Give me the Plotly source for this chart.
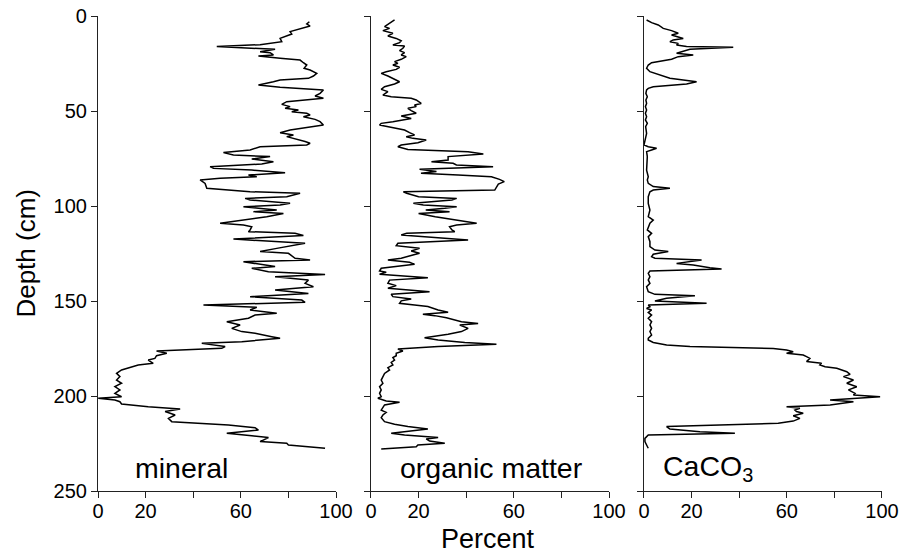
import plotly.graph_objects as go

# ---------------- data ----------------
mineral_depth = [3.0, 4.2, 5.3, 7.4, 8.2, 9.5, 10.5, 11.8, 13.5, 14.4, 15.1, 16.1, 16.8, 17.5, 18.8, 19.3,
                 20.5, 21.1, 22.3, 23.2, 24.6, 25.8, 27.5, 28.4, 30.2, 31.6, 32.8, 33.7, 34.6, 36.3, 37.5,
                 38.9, 40.7, 42.1, 43.3, 45.1, 46.5, 47.7, 48.6, 49.5, 50.4, 51.2, 52.1, 53.0, 54.4, 55.6,
                 57.4, 58.2, 60.0, 61.4, 62.6, 63.5, 64.9, 66.1, 67.0, 67.9, 68.8, 70.5, 71.9, 73.2, 74.0,
                 75.3, 76.7, 77.9, 79.3, 80.2, 81.1, 82.5, 83.7, 84.6, 85.4, 86.3, 88.1, 90.7, 92.5, 93.3,
                 95.1, 96.0, 96.8, 97.7, 98.6, 99.5, 100.4, 101.2, 102.1, 103.0, 103.9, 105.6, 107.4, 109.1,
                 110.0, 110.9, 112.6, 113.5, 114.4, 115.5, 117.4, 119.6, 122.3, 124.0, 124.9, 127.5, 128.4,
                 129.3, 131.9, 132.8, 134.6, 136.0, 137.2, 139.0, 140.7, 142.5, 144.2, 146.0, 147.7, 149.5,
                 150.7, 152.1, 153.3, 154.7, 156.5, 157.4, 159.1, 160.9, 162.6, 164.4, 166.1, 167.0, 168.8,
                 169.6, 171.4, 172.3, 174.0, 174.9, 176.3, 177.5, 178.8, 180.2, 181.1, 182.8, 183.7, 185.1,
                 186.3, 188.1, 189.8, 191.6, 193.3, 195.1, 196.8, 198.6, 200.4, 201.2, 202.1, 203.0, 204.2,
                 205.6, 206.8, 208.2, 210.0, 211.8, 213.5, 215.3, 216.7, 217.9, 219.6, 220.9, 221.9, 224.0,
                 224.9, 225.8, 227.5]
mineral_pct = [88.8, 87.7, 89.1, 82.8, 80.7, 81.4, 79.3, 76.5, 77.2, 72.3, 68.1, 49.9, 66.7, 74.4, 68.1, 72.3,
               73.7, 67.4, 76.5, 84.9, 86.3, 87.7, 86.6, 89.1, 91.9, 90.5, 88.4, 76.5, 73.7, 67.4, 76.5,
               94.7, 93.3, 91.2, 94.7, 79.3, 77.2, 80.7, 78.6, 84.2, 81.4, 87.7, 89.1, 86.3, 91.2, 93.3,
               94.7, 90.5, 80.7, 76.5, 82.1, 79.3, 84.2, 87.0, 89.1, 87.7, 68.1, 63.9, 52.7, 56.9, 72.3,
               64.6, 73.7, 68.8, 47.1, 48.5, 64.6, 78.6, 63.2, 66.7, 51.3, 42.9, 45.0, 45.7, 63.9, 84.9,
               79.3, 61.8, 63.9, 70.9, 80.7, 76.5, 61.1, 67.4, 75.1, 65.3, 77.9, 70.9, 61.1, 51.3,
               61.1, 64.6, 63.9, 63.2, 82.8, 86.3, 56.9, 87.0, 75.1, 68.1, 80.0, 82.8, 89.1,
               61.1, 74.4, 64.6, 71.6, 95.4, 74.4, 88.4, 87.0, 90.5, 74.4, 88.4, 63.9, 85.6,
               87.0, 44.3, 66.7, 63.9, 75.1, 66.0, 63.2, 54.1, 59.7, 56.2, 60.4, 66.0, 73.0,
               76.5, 60.4, 43.6, 53.4, 52.0, 24.6, 28.9, 24.6, 23.9, 21.1, 23.2, 16.9, 12.7,
               9.9, 7.8, 9.2, 7.8, 9.9, 7.1, 9.2, 7.1, 9.9, 0.1, 7.1, 9.2, 9.9,
               21.1, 34.5, 28.2, 32.4, 29.6, 31.0, 54.8, 66.0, 67.4, 54.1, 64.6, 71.6, 68.1,
               79.3, 80.0, 95.4]

organic_depth = [2.1, 3.9, 5.6, 6.5, 7.7, 9.1, 10.5, 11.8, 13.0, 14.0, 15.3, 15.8, 17.0, 18.2, 19.3, 20.5,
                 21.4, 22.8, 24.0, 24.9, 25.8, 27.0, 28.1, 29.3, 30.2, 31.6, 32.8, 34.6, 35.8, 37.2, 38.6,
                 39.8, 41.6, 42.5, 43.3, 44.2, 46.0, 46.8, 47.7, 48.6, 49.8, 51.2, 52.6, 53.9, 55.6, 56.5,
                 57.4, 58.2, 60.0, 61.4, 62.6, 63.5, 64.4, 65.3, 66.7, 67.9, 68.8, 70.2, 71.4, 72.6, 74.0,
                 75.8, 76.7, 77.5, 78.4, 79.3, 80.7, 81.9, 82.8, 83.7, 84.6, 86.0, 87.2, 88.5, 90.0, 91.6,
                 92.5, 93.3, 95.1, 96.0, 96.8, 97.7, 98.6, 99.5, 100.4, 101.2, 102.1, 103.0, 103.9, 105.6,
                 107.4, 109.1, 110.0, 110.9, 112.6, 113.5, 114.4, 115.3, 117.9, 119.6, 120.9, 122.3, 123.7,
                 124.9, 125.8, 126.7, 127.5, 128.4, 129.6, 130.7, 131.9, 132.8, 134.2, 134.9, 135.9, 137.2,
                 137.7, 139.0, 140.7, 141.9, 143.3, 145.1, 146.5, 147.7, 148.9, 149.9, 151.2, 152.1, 152.9,
                 154.7, 155.9, 157.0, 157.7, 158.8, 160.0, 160.9, 161.8, 162.6, 164.4, 166.1, 167.5, 169.3,
                 170.5, 171.8, 172.8, 174.0, 175.3, 176.3, 177.5, 178.8, 179.8, 181.1, 182.3, 183.7, 185.1,
                 186.3, 188.1, 189.8, 191.6, 193.3, 195.1, 196.8, 198.6, 200.4, 201.2, 202.6, 203.3, 204.7,
                 206.1, 207.4, 208.6, 210.0, 211.4, 213.5, 214.9, 216.1, 217.4, 218.4, 219.6, 220.5, 221.8,
                 222.6, 223.7, 224.9, 225.8, 226.7, 227.9]
organic_pct = [9.9, 7.8, 5.7, 7.8, 5.0, 9.2, 7.1, 10.6, 12.7, 12.0, 9.2, 14.1, 13.4, 12.0, 14.1, 12.7,
               14.8, 12.7, 9.9, 11.3, 9.2, 12.0, 10.6, 6.4, 4.3, 7.1, 9.2, 12.0, 9.9, 5.7, 4.3,
               7.1, 5.0, 8.5, 16.9, 19.0, 21.1, 18.3, 19.0, 15.5, 16.9, 19.0, 12.7, 16.9, 9.2, 4.3,
               3.6, 6.4, 14.1, 16.2, 18.3, 14.8, 17.6, 23.2, 19.7, 12.7, 11.3, 15.5, 40.8, 47.2, 32.4,
               32.4, 25.4, 34.5, 35.9, 51.3, 20.4, 27.5, 21.0, 36.6, 50.6, 54.0, 56.0, 53.5, 52.8, 52.0,
               13.6, 15.0, 20.0, 36.0, 34.0, 27.0, 17.8, 22.0, 36.0, 31.0, 23.0, 33.0, 20.0, 27.0,
               37.0, 44.4, 36.0, 33.0, 34.0, 35.2, 15.0, 12.7, 40.8, 11.3, 10.6, 20.4, 16.9,
               20.4, 17.6, 14.8, 12.7, 7.1, 16.2, 18.3, 8.5, 4.3, 3.6, 6.4, 3.6, 16.9,
               23.9, 7.8, 7.1, 10.6, 7.1, 24.6, 8.5, 9.2, 16.9, 12.7, 12.0, 18.3, 23.9,
               28.2, 32.4, 21.8, 26.8, 31.7, 35.9, 38.0, 45.0, 37.3, 40.8, 38.0, 32.4, 22.5,
               28.2, 39.4, 52.7, 28.2, 11.3, 13.4, 10.6, 10.6, 9.2, 9.9, 8.5, 9.2, 7.1,
               7.8, 5.7, 5.0, 4.3, 5.0, 3.6, 4.3, 3.6, 4.3, 2.9, 6.4, 12.0, 5.7,
               5.0, 4.3, 6.4, 5.0, 4.3, 5.7, 9.9, 15.5, 23.9, 16.9, 8.5, 14.1, 28.2,
               23.2, 24.6, 31.0, 19.7, 19.0, 4.3]

caco3_depth = [2.1, 3.5, 4.7, 6.5, 7.7, 9.1, 10.0, 10.9, 11.8, 12.6, 13.5, 14.4, 15.3, 16.1, 16.5, 17.5,
               18.8, 19.6, 20.5, 21.4, 22.8, 23.5, 24.6, 25.8, 27.5, 29.3, 31.1, 32.8, 33.7, 34.6, 35.8,
               36.3, 37.2, 38.1, 38.9, 40.7, 42.5, 44.2, 46.0, 47.7, 49.5, 51.2, 53.0, 54.7, 56.5, 58.2,
               60.0, 61.8, 63.5, 65.3, 67.0, 67.9, 68.8, 69.6, 70.5, 71.4, 74.0, 77.5, 81.1, 84.6, 86.3,
               88.1, 89.8, 90.7, 91.6, 92.5, 95.1, 98.6, 102.1, 105.6, 107.4, 109.1, 111.8, 112.6, 114.4,
               116.1, 118.8, 121.4, 123.2, 124.0, 125.4, 126.7, 127.5, 128.4, 130.2, 131.1, 132.5, 133.2,
               134.2, 135.4, 137.2, 138.9, 140.7, 142.5, 145.1, 146.5, 147.2, 148.6, 150.0, 151.2, 152.1,
               153.0, 153.9, 154.7, 156.0, 157.4, 159.1, 160.9, 162.6, 164.4, 166.1, 167.9, 169.6, 170.5,
               171.8, 173.2, 174.0, 175.0, 175.8, 176.7, 177.5, 178.4, 179.3, 180.2, 181.9, 182.8, 183.7,
               184.6, 185.4, 187.2, 188.6, 189.8, 191.6, 193.3, 195.1, 196.8, 198.6, 199.5, 200.4, 201.2,
               202.1, 203.0, 203.9, 204.7, 205.6, 206.5, 207.4, 208.2, 209.1, 210.4, 211.8, 213.2, 214.4,
               215.3, 216.1, 217.4, 218.8, 219.6, 220.5, 222.3, 224.0, 225.8, 227.5]
caco3_pct = [1.1, 3.2, 6.0, 8.1, 11.6, 14.4, 11.6, 13.7, 16.5, 12.3, 10.9, 14.4, 13.7, 17.9, 37.5, 19.3,
             15.1, 13.7, 20.7, 14.4, 11.6, 8.1, 3.2, 1.8, 1.1, 2.5, 6.7, 10.9, 16.5, 22.1, 17.9,
             11.6, 3.9, 1.8, 1.1, 0.8, 1.4, 0.8, 1.1, 0.6, 1.1, 0.6, 1.1, 0.6, 1.4, 0.7,
             0.8, 1.1, 0.8, 0.4, 0.0, 0.0, 1.8, 5.3, 3.2, 1.1, 1.4, 1.1, 1.1, 1.8, 1.4,
             1.8, 3.9, 10.9, 3.9, 2.5, 1.8, 1.8, 2.5, 1.8, 3.9, 2.5, 1.8, 1.4, 3.2,
             1.8, 2.5, 2.5, 4.6, 10.2, 3.9, 3.2, 4.6, 24.2, 13.7, 20.7, 27.7, 32.6,
             2.5, 1.8, 2.5, 1.8, 2.5, 1.1, 1.8, 4.6, 21.4, 9.5, 4.6, 26.3, 1.8,
             2.5, 1.1, 3.2, 1.8, 3.2, 1.8, 3.2, 2.5, 3.2, 2.5, 3.2, 1.8, 1.8,
             3.9, 9.5, 19.3, 54.3, 59.9, 62.7, 59.9, 66.9, 68.3, 69.7, 68.3, 74.6, 73.9,
             76.1, 81.0, 85.2, 86.6, 83.8, 88.0, 85.2, 89.4, 85.9, 88.7, 88.0, 99.2, 86.6,
             78.2, 88.0, 82.4, 78.2, 59.9, 65.5, 63.4, 64.1, 66.9, 62.7, 65.5, 62.7, 56.4,
             33.3, 9.5, 10.9, 23.5, 38.2, 1.8, 0.4, 0.4, 1.1, 1.8]

x_tickvals = [0, 20, 60, 100]
x_ticktext = ["0", "20", "60", "100"]
x_minor_tickvals = [40, 80]
y_tickvals = [0, 50, 100, 150, 200, 250]
panel_labels = ["mineral", "organic matter", "CaCO<sub>3</sub>"]

# ---------------- figure ----------------
FONT = "Arial, 'Liberation Sans', sans-serif"
fig = go.Figure()
series = [(mineral_pct, mineral_depth, "x", "y"),
          (organic_pct, organic_depth, "x2", "y2"),
          (caco3_pct, caco3_depth, "x3", "y3")]
for xs, ys, xa, ya in series:
    fig.add_trace(go.Scatter(x=xs, y=ys, xaxis=xa, yaxis=ya, mode="lines",
                             line=dict(color="black", width=1.5), showlegend=False,
                             hoverinfo="skip"))

ax_common = dict(showline=True, linecolor="#222", linewidth=1.2, ticks="outside", ticklen=6,
                 tickcolor="#222", tickwidth=1.2, showgrid=False, zeroline=False,
                 automargin=False,
                 tickfont=dict(family=FONT, size=20, color="black"))

domains = [[0.0, 0.3036], [0.3482, 0.6518], [0.6964, 1.0]]
layout = dict(
    width=902, height=552,
    margin=dict(l=98, r=20, t=16, b=61),
    paper_bgcolor="white", plot_bgcolor="white",
    font=dict(family=FONT, color="black"),
)
for i, dom in enumerate(domains):
    sfx = "" if i == 0 else str(i + 1)
    layout["xaxis" + sfx] = dict(ax_common, domain=dom, anchor="y" + sfx, range=[0, 100],
                                 tickmode="array", tickvals=x_tickvals, ticktext=x_ticktext,
                                 ticklabelstandoff=-4,
                                 minor=dict(tickmode="array", tickvals=x_minor_tickvals,
                                            ticks="outside", ticklen=6, tickcolor="#222",
                                            tickwidth=1.2, showgrid=False))
    layout["yaxis" + sfx] = dict(ax_common, anchor="x" + sfx, range=[250, 0],
                                 tickmode="array", tickvals=y_tickvals,
                                 showticklabels=(i == 0))
fig.update_layout(**layout)

ann = []
label_x = [14.7, 11.3, 7.1]
for i, (txt, lx) in enumerate(zip(panel_labels, label_x)):
    sfx = "" if i == 0 else str(i + 1)
    ann.append(dict(text=txt, x=lx, y=238, xref="x" + sfx, yref="y", xanchor="left",
                    yanchor="middle", showarrow=False,
                    font=dict(family=FONT, size=28.5, color="black")))
ann.append(dict(text="Depth (cm)", textangle=-90, x=-0.093, y=0.5, xref="paper", yref="paper",
                xanchor="center", yanchor="middle", showarrow=False,
                font=dict(family=FONT, size=26, color="black")))
ann.append(dict(text="Percent", x=0.4974, y=-0.1, xref="paper", yref="paper",
                xanchor="center", yanchor="middle", showarrow=False,
                font=dict(family=FONT, size=27, color="black")))
fig.update_layout(annotations=ann)

fig.write_html("out.html", config={"displayModeBar": False},
               post_script="document.body.style.margin='0';document.body.style.overflow='hidden';")
